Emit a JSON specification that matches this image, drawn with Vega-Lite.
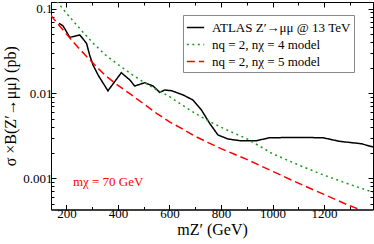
{
  "$schema": "https://vega.github.io/schema/vega-lite/v6.json",
  "autosize": "none",
  "width": 322,
  "height": 207.5,
  "padding": {"left": 51, "top": 2, "right": 1, "bottom": 34.5},
  "config": {
    "view": {"stroke": "black", "strokeWidth": 1},
    "font": "Liberation Serif",
    "axis": {
      "labelFont": "Liberation Serif", "labelFontSize": 13, "labelColor": "black",
      "titleFont": "Liberation Serif", "titleFontSize": 16, "titleFontWeight": "normal", "titleColor": "black",
      "domainColor": "black", "tickColor": "black", "grid": false
    },
    "legend": {
      "labelFont": "Liberation Serif", "labelFontSize": 13, "labelColor": "black"
    }
  },
  "datasets": {
    "curves": [
      {"series": "ATLAS Z′→μμ @ 13 TeV", "m": 171, "xs": 0.0671},
      {"series": "ATLAS Z′→μμ @ 13 TeV", "m": 187, "xs": 0.0623},
      {"series": "ATLAS Z′→μμ @ 13 TeV", "m": 213, "xs": 0.0458},
      {"series": "ATLAS Z′→μμ @ 13 TeV", "m": 252, "xs": 0.0488},
      {"series": "ATLAS Z′→μμ @ 13 TeV", "m": 278, "xs": 0.0389},
      {"series": "ATLAS Z′→μμ @ 13 TeV", "m": 290, "xs": 0.0283},
      {"series": "ATLAS Z′→μμ @ 13 TeV", "m": 303, "xs": 0.0216},
      {"series": "ATLAS Z′→μμ @ 13 TeV", "m": 323, "xs": 0.0164},
      {"series": "ATLAS Z′→μμ @ 13 TeV", "m": 361, "xs": 0.0107},
      {"series": "ATLAS Z′→μμ @ 13 TeV", "m": 413, "xs": 0.0175},
      {"series": "ATLAS Z′→μμ @ 13 TeV", "m": 446, "xs": 0.01436},
      {"series": "ATLAS Z′→μμ @ 13 TeV", "m": 465, "xs": 0.0122},
      {"series": "ATLAS Z′→μμ @ 13 TeV", "m": 504, "xs": 0.01334},
      {"series": "ATLAS Z′→μμ @ 13 TeV", "m": 536, "xs": 0.0122},
      {"series": "ATLAS Z′→μμ @ 13 TeV", "m": 562, "xs": 0.01027},
      {"series": "ATLAS Z′→μμ @ 13 TeV", "m": 582, "xs": 0.01094},
      {"series": "ATLAS Z′→μμ @ 13 TeV", "m": 608, "xs": 0.01073},
      {"series": "ATLAS Z′→μμ @ 13 TeV", "m": 653, "xs": 0.00955},
      {"series": "ATLAS Z′→μμ @ 13 TeV", "m": 691, "xs": 0.00834},
      {"series": "ATLAS Z′→μμ @ 13 TeV", "m": 724, "xs": 0.00635},
      {"series": "ATLAS Z′→μμ @ 13 TeV", "m": 756, "xs": 0.00442},
      {"series": "ATLAS Z′→μμ @ 13 TeV", "m": 788, "xs": 0.00322},
      {"series": "ATLAS Z′→μμ @ 13 TeV", "m": 827, "xs": 0.00289},
      {"series": "ATLAS Z′→μμ @ 13 TeV", "m": 873, "xs": 0.00276},
      {"series": "ATLAS Z′→μμ @ 13 TeV", "m": 938, "xs": 0.00276},
      {"series": "ATLAS Z′→μμ @ 13 TeV", "m": 989, "xs": 0.00299},
      {"series": "ATLAS Z′→μμ @ 13 TeV", "m": 1100, "xs": 0.00301},
      {"series": "ATLAS Z′→μμ @ 13 TeV", "m": 1196, "xs": 0.00299},
      {"series": "ATLAS Z′→μμ @ 13 TeV", "m": 1260, "xs": 0.00271},
      {"series": "ATLAS Z′→μμ @ 13 TeV", "m": 1345, "xs": 0.00254},
      {"series": "ATLAS Z′→μμ @ 13 TeV", "m": 1390, "xs": 0.00232},
      {"series": "nq = 2, nχ = 4 model", "m": 150, "xs": 0.136},
      {"series": "nq = 2, nχ = 4 model", "m": 200, "xs": 0.088},
      {"series": "nq = 2, nχ = 4 model", "m": 250, "xs": 0.059},
      {"series": "nq = 2, nχ = 4 model", "m": 300, "xs": 0.040},
      {"series": "nq = 2, nχ = 4 model", "m": 350, "xs": 0.0286},
      {"series": "nq = 2, nχ = 4 model", "m": 400, "xs": 0.0219},
      {"series": "nq = 2, nχ = 4 model", "m": 450, "xs": 0.0170},
      {"series": "nq = 2, nχ = 4 model", "m": 500, "xs": 0.01354},
      {"series": "nq = 2, nχ = 4 model", "m": 550, "xs": 0.0110},
      {"series": "nq = 2, nχ = 4 model", "m": 600, "xs": 0.00916},
      {"series": "nq = 2, nχ = 4 model", "m": 650, "xs": 0.00723},
      {"series": "nq = 2, nχ = 4 model", "m": 700, "xs": 0.0058},
      {"series": "nq = 2, nχ = 4 model", "m": 750, "xs": 0.00474},
      {"series": "nq = 2, nχ = 4 model", "m": 800, "xs": 0.00398},
      {"series": "nq = 2, nχ = 4 model", "m": 850, "xs": 0.00339},
      {"series": "nq = 2, nχ = 4 model", "m": 900, "xs": 0.00291},
      {"series": "nq = 2, nχ = 4 model", "m": 950, "xs": 0.00238},
      {"series": "nq = 2, nχ = 4 model", "m": 1000, "xs": 0.00194},
      {"series": "nq = 2, nχ = 4 model", "m": 1100, "xs": 0.00143},
      {"series": "nq = 2, nχ = 4 model", "m": 1200, "xs": 0.00108},
      {"series": "nq = 2, nχ = 4 model", "m": 1300, "xs": 0.00084},
      {"series": "nq = 2, nχ = 4 model", "m": 1390, "xs": 0.00068},
      {"series": "nq = 2, nχ = 5 model", "m": 138, "xs": 0.084},
      {"series": "nq = 2, nχ = 5 model", "m": 200, "xs": 0.050},
      {"series": "nq = 2, nχ = 5 model", "m": 250, "xs": 0.0335},
      {"series": "nq = 2, nχ = 5 model", "m": 300, "xs": 0.0232},
      {"series": "nq = 2, nχ = 5 model", "m": 350, "xs": 0.0163},
      {"series": "nq = 2, nχ = 5 model", "m": 400, "xs": 0.0124},
      {"series": "nq = 2, nχ = 5 model", "m": 450, "xs": 0.0097},
      {"series": "nq = 2, nχ = 5 model", "m": 500, "xs": 0.0075},
      {"series": "nq = 2, nχ = 5 model", "m": 550, "xs": 0.0058},
      {"series": "nq = 2, nχ = 5 model", "m": 600, "xs": 0.0046},
      {"series": "nq = 2, nχ = 5 model", "m": 650, "xs": 0.0038},
      {"series": "nq = 2, nχ = 5 model", "m": 700, "xs": 0.0031},
      {"series": "nq = 2, nχ = 5 model", "m": 750, "xs": 0.00262},
      {"series": "nq = 2, nχ = 5 model", "m": 800, "xs": 0.00222},
      {"series": "nq = 2, nχ = 5 model", "m": 850, "xs": 0.00192},
      {"series": "nq = 2, nχ = 5 model", "m": 900, "xs": 0.00166},
      {"series": "nq = 2, nχ = 5 model", "m": 1000, "xs": 0.00120},
      {"series": "nq = 2, nχ = 5 model", "m": 1100, "xs": 0.00087},
      {"series": "nq = 2, nχ = 5 model", "m": 1200, "xs": 0.00064},
      {"series": "nq = 2, nχ = 5 model", "m": 1300, "xs": 0.00047},
      {"series": "nq = 2, nχ = 5 model", "m": 1400, "xs": 0.00036}
    ],
    "notes": [
      {"m": 225, "xs": 0.00089, "label": "mχ = 70 GeV"}
    ]
  },
  "resolve": {"axis": {"x": "independent", "y": "independent"}},
  "layer": [
    {
      "data": {"name": "curves"},
      "mark": {"type": "line", "clip": true, "strokeWidth": 1.5},
      "encoding": {
        "x": {
          "field": "m", "type": "quantitative",
          "scale": {"domain": [140, 1390], "nice": false, "zero": false},
          "axis": {
            "orient": "bottom",
            "title": "mZ′ (GeV)",
            "format": "d",
            "values": [200, 300, 400, 500, 600, 700, 800, 900, 1000, 1100, 1200, 1300],
            "labelExpr": "datum.value % 200 === 0 ? datum.label : ''",
            "tickSize": {"condition": {"test": "datum.value % 200 === 0", "value": -5}, "value": -3},
            "labelFont": "Liberation Serif", "labelFontSize": 13,
            "titleFont": "Liberation Serif", "titleFontSize": 16,
            "labelPadding": 3,
            "titlePadding": 1,
            "labelFlush": false
          }
        },
        "y": {
          "field": "xs", "type": "quantitative",
          "scale": {"type": "log", "domain": [0.000425, 0.1196], "nice": false},
          "axis": {
            "orient": "left",
            "title": "σ ×B(Z′→μμ) (pb)",
            "values": [0.0005, 0.0006, 0.0007, 0.0008, 0.0009, 0.001, 0.002, 0.003, 0.004, 0.005, 0.006, 0.007, 0.008, 0.009, 0.01, 0.02, 0.03, 0.04, 0.05, 0.06, 0.07, 0.08, 0.09, 0.1],
            "labelExpr": "datum.value === 0.1 ? '0.1' : datum.value === 0.01 ? '0.01' : datum.value === 0.001 ? '0.001' : ''",
            "tickSize": {"condition": {"test": "datum.value === 0.1 || datum.value === 0.01 || datum.value === 0.001", "value": -5}, "value": -3},
            "labelFont": "Liberation Serif", "labelFontSize": 13,
            "titleFont": "Liberation Serif", "titleFontSize": 16,
            "labelPadding": 4,
            "titlePadding": 4,
            "labelFlush": false
          }
        },
        "color": {
          "field": "series", "type": "nominal",
          "scale": {
            "domain": ["ATLAS Z′→μμ @ 13 TeV", "nq = 2, nχ = 4 model", "nq = 2, nχ = 5 model"],
            "range": ["#000000", "#1a9a1a", "#ff0000"]
          },
          "legend": {
            "title": null,
            "orient": "none",
            "legendX": 132,
            "legendY": 13,
            "symbolType": "stroke",
            "symbolSize": 300,
            "symbolStrokeWidth": 1.5,
            "labelOffset": 7,
            "labelFont": "Liberation Serif", "labelFontSize": 13,
            "fillColor": "white",
            "strokeColor": "#888888",
            "padding": 3,
            "rowPadding": 0
          }
        },
        "strokeDash": {
          "field": "series", "type": "nominal",
          "scale": {
            "domain": ["ATLAS Z′→μμ @ 13 TeV", "nq = 2, nχ = 4 model", "nq = 2, nχ = 5 model"],
            "range": [[1, 0], [2, 3.5], [8, 4]]
          },
          "legend": {
            "title": null,
            "orient": "none",
            "legendX": 132,
            "legendY": 13,
            "symbolType": "stroke",
            "symbolSize": 300,
            "symbolStrokeWidth": 1.5,
            "labelOffset": 7,
            "labelFont": "Liberation Serif", "labelFontSize": 13,
            "fillColor": "white",
            "strokeColor": "#888888",
            "padding": 3,
            "rowPadding": 0
          }
        }
      }
    },
    {
      "data": {"name": "notes"},
      "mark": {"type": "text", "align": "left", "baseline": "middle", "font": "Liberation Serif", "fontSize": 13, "color": "#ff0000"},
      "encoding": {
        "x": {"field": "m", "type": "quantitative", "axis": null},
        "y": {"field": "xs", "type": "quantitative", "axis": null},
        "text": {"field": "label"}
      }
    },
    {
      "data": {"name": "curves"},
      "mark": {"type": "point", "opacity": 0},
      "encoding": {
        "x": {
          "field": "m", "type": "quantitative",
          "axis": {
            "orient": "top", "title": null, "labels": false,
            "values": [200, 300, 400, 500, 600, 700, 800, 900, 1000, 1100, 1200, 1300],
            "tickSize": {"condition": {"test": "datum.value % 200 === 0", "value": -5}, "value": -3}
          }
        },
        "y": {
          "field": "xs", "type": "quantitative",
          "axis": {
            "orient": "right", "title": null, "labels": false,
            "values": [0.0005, 0.0006, 0.0007, 0.0008, 0.0009, 0.001, 0.002, 0.003, 0.004, 0.005, 0.006, 0.007, 0.008, 0.009, 0.01, 0.02, 0.03, 0.04, 0.05, 0.06, 0.07, 0.08, 0.09, 0.1],
            "tickSize": {"condition": {"test": "datum.value === 0.1 || datum.value === 0.01 || datum.value === 0.001", "value": -5}, "value": -3}
          }
        }
      }
    }
  ]
}
